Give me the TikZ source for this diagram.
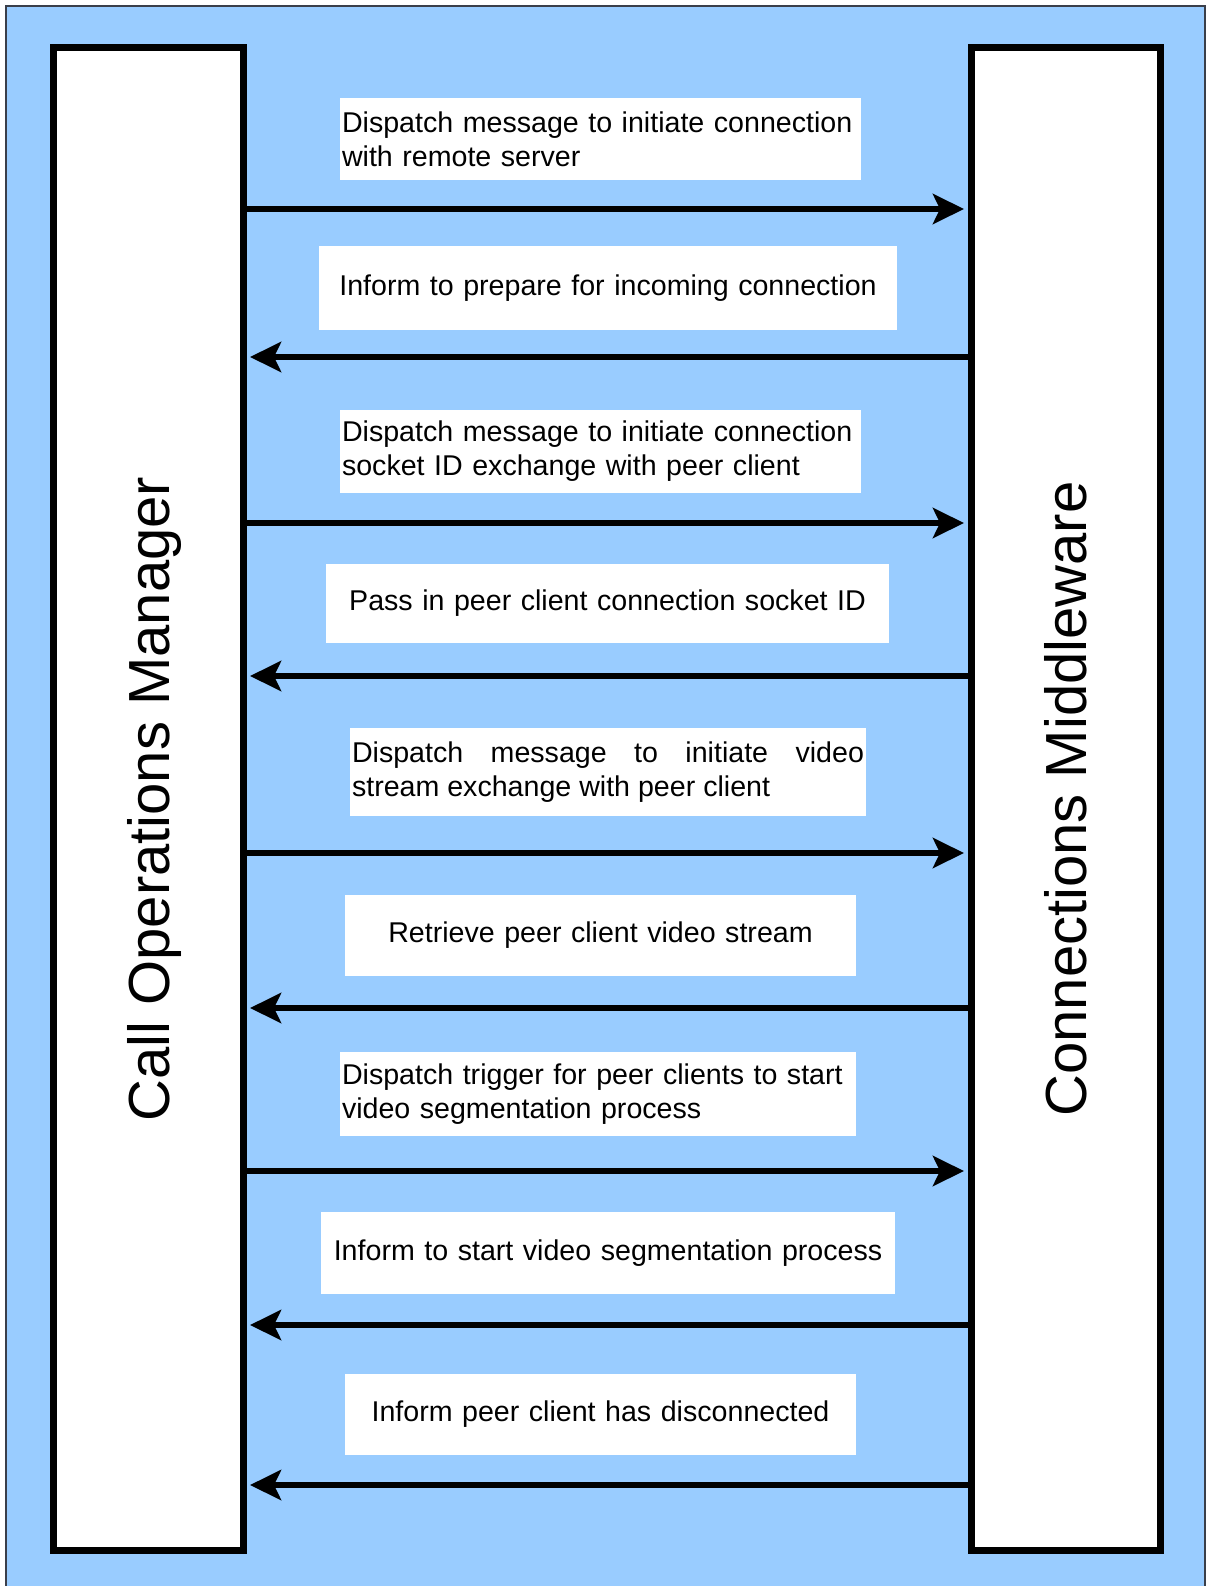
\documentclass[tikz,border=0pt]{standalone}
\usepackage{fontspec}
\setmainfont{Liberation Sans}
\usetikzlibrary{arrows.meta}
\definecolor{bgblue}{HTML}{99CCFF}
\definecolor{framegray}{HTML}{3A3F4A}

\begin{document}
\begin{tikzpicture}[x=1pt, y=-1pt,
		lifebox/.style={draw=black, line width=7pt, fill=white, minimum width=190pt, minimum height=1503pt, inner sep=0pt},
		lifetext/.style={rotate=90, anchor=base, inner sep=0pt, font=\fontsize{58}{70}\selectfont},
		msgbox/.style={fill=white, inner xsep=2pt, inner ysep=0pt, font=\fontsize{28.6}{34}\selectfont,
			execute at begin node={\hyphenpenalty=10000}},
		msg/.style={line width=6pt, shorten >=3.5pt, -{Stealth[length=31pt, width=30pt, inset=7pt]}}]
		\useasboundingbox (0,0) rectangle (1207,1586);
		% background and frame
		\fill[bgblue] (6,6) rectangle (1205,1586);
		\draw[framegray, line width=2pt] (6,1586) |- (1205,6) -- (1205,1586);
		% lifelines
		\node[lifebox] (com) at (148,799) {};
		\node[lifebox, minimum width=189pt] (cm) at (1065.5,799) {};
		\node[lifetext] at ([xshift=21pt]com.center) {Call Operations Manager};
		\node[lifetext] at ([xshift=21pt]cm.center) {Connections Middleware};
		% message labels
		\node[msgbox, text width=517pt, minimum height=82pt, align=left] (m1) at (600.5,139) {Dispatch message to initiate connection\\with remote server};
		\node[msgbox, text width=574pt, minimum height=84pt, align=center] (m2) at (608,288) {Inform to prepare for incoming connection};
		\node[msgbox, text width=517pt, minimum height=83pt, align=left] (m3) at (600.5,451.5) {Dispatch message to initiate connection\\socket ID exchange with peer client};
		\node[msgbox, text width=559pt, minimum height=79pt, align=center] (m4) at (607.5,603.5) {Pass in peer client connection socket ID};
		\node[msgbox, text width=512pt, minimum height=88pt, align=justify] (m5) at (608,772) {Dispatch message to initiate video stream exchange with peer client};
		\node[msgbox, text width=507pt, minimum height=81pt, align=center] (m6) at (600.5,935.5) {Retrieve peer client video stream};
		\node[msgbox, text width=512pt, minimum height=84pt, align=left] (m7) at (598,1094) {Dispatch trigger for peer clients to start\\video segmentation process};
		\node[msgbox, text width=570pt, minimum height=82pt, align=center] (m8) at (608,1253) {Inform to start video segmentation process};
		\node[msgbox, text width=507pt, minimum height=81pt, align=center] (m9) at (600.5,1414.5) {Inform peer client has disconnected};
		% arrow heights
		\coordinate (a1) at (0,209);
		\coordinate (a2) at (0,357);
		\coordinate (a3) at (0,523);
		\coordinate (a4) at (0,676);
		\coordinate (a5) at (0,853);
		\coordinate (a6) at (0,1008);
		\coordinate (a7) at (0,1171);
		\coordinate (a8) at (0,1325);
		\coordinate (a9) at (0,1485);
		% messages
		\draw[msg] (com.east |- a1) -- (cm.west |- a1);
		\draw[msg] (cm.west |- a2) -- (com.east |- a2);
		\draw[msg] (com.east |- a3) -- (cm.west |- a3);
		\draw[msg] (cm.west |- a4) -- (com.east |- a4);
		\draw[msg] (com.east |- a5) -- (cm.west |- a5);
		\draw[msg] (cm.west |- a6) -- (com.east |- a6);
		\draw[msg] (com.east |- a7) -- (cm.west |- a7);
		\draw[msg] (cm.west |- a8) -- (com.east |- a8);
		\draw[msg] (cm.west |- a9) -- (com.east |- a9);
	\end{tikzpicture}
\end{document}
